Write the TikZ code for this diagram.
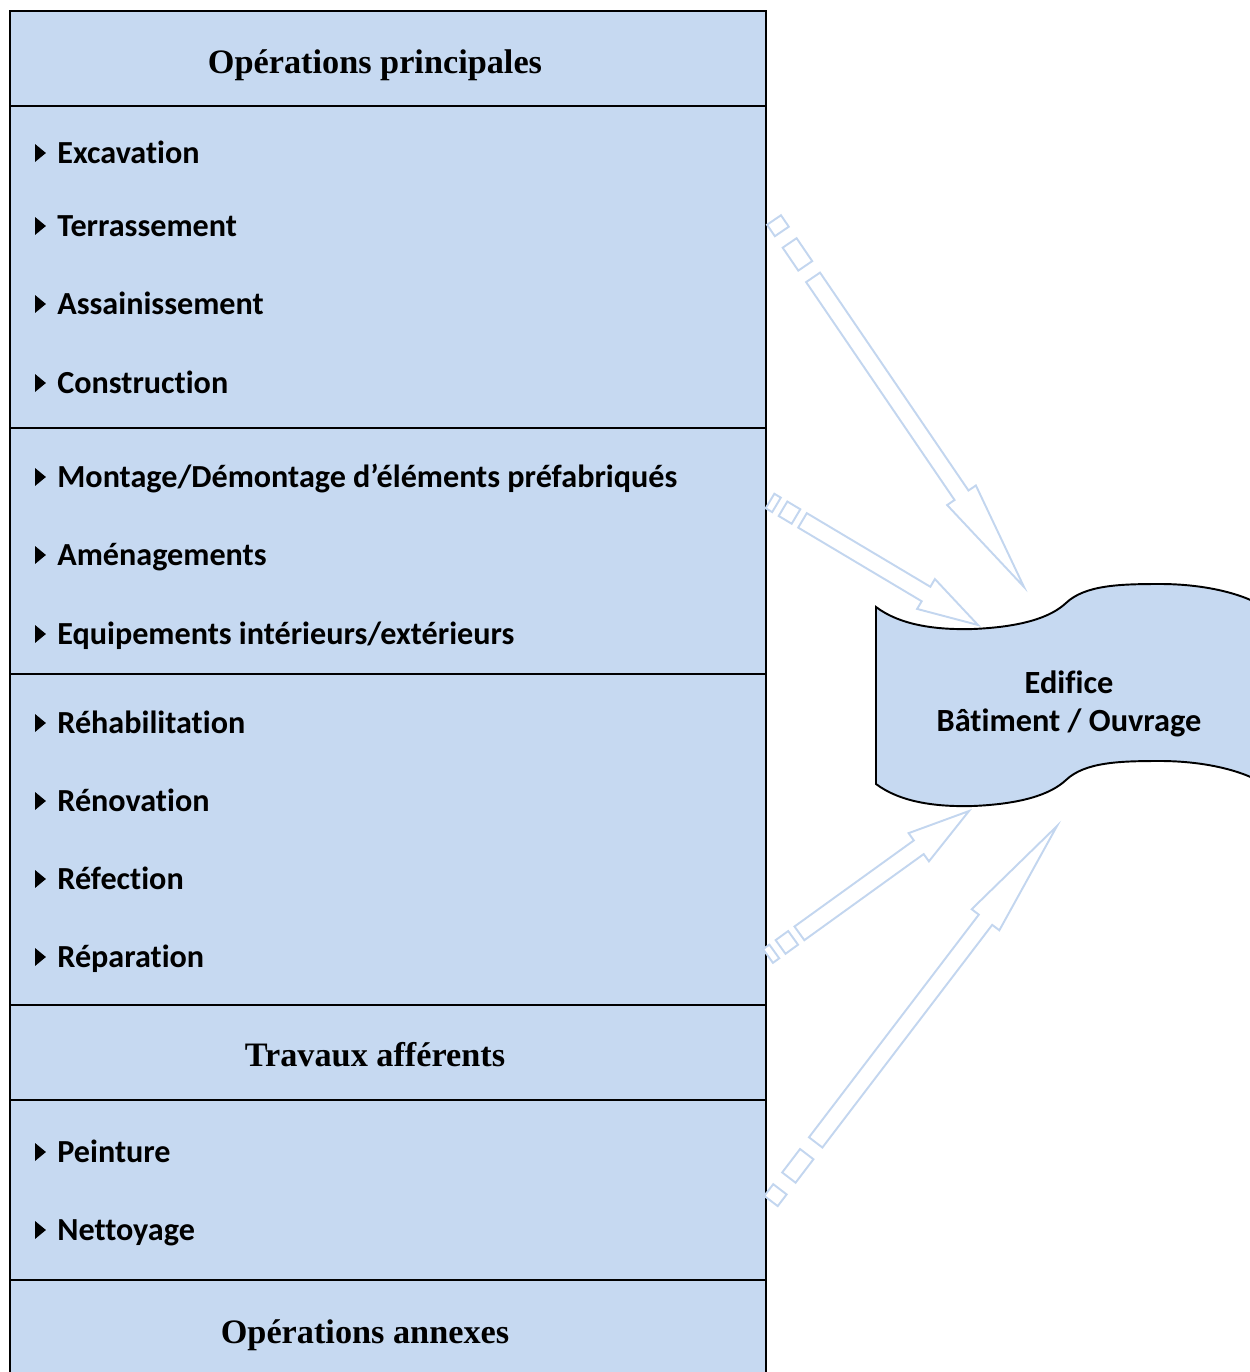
\documentclass[tikz,border=0pt]{standalone}
\usepackage{fontspec}
\setmainfont{Liberation Serif}
\newfontfamily\calibri[Ligatures=NoCommon]{Carlito}
\usepackage{xcolor}
\definecolor{boxblue}{HTML}{C6D9F1}
\definecolor{arrowblue}{HTML}{C3D6EF}
\usepackage{tikz}
\usetikzlibrary{calc}
\tikzset{
  section/.style={draw=black, line width=1.1pt, fill=boxblue},
  titre/.style  ={anchor=base, inner sep=0pt, font=\bfseries\fontsize{19.5}{24}\selectfont},
  item/.style   ={anchor=base west, inner sep=0pt, font=\calibri\bfseries\fontsize{18.3}{22}\selectfont},
  edif/.style   ={align=center, inner sep=0pt, font=\calibri\bfseries\fontsize{18.4}{21.5}\selectfont},
  flag/.style   ={draw=black, line width=1.1pt, fill=boxblue},
  sarrow/.style ={draw=arrowblue, line width=1.1pt, fill=white, line join=miter},
}
% puce triangulaire devant un item
\newcommand{\puce}[1]{\fill ([xshift=-12.5pt,yshift=0.6pt]#1.base west) -- ++(0,10.2pt) -- ++(6.2pt,-5.1pt) -- cycle;}
% flèche rayée : #1 nom, #2 départ, #3 pointe
\newcommand{\fleche}[3]{%
  \foreach \t/\s in {a/0, b/0.03125, c/0.0625, d/0.125, e/0.15625, f/0.75}{
    \coordinate (#1\t-l) at ($(#2)!\s!(#3)!4.8pt!90:(#3)$);
    \coordinate (#1\t-r) at ($(#2)!\s!(#3)!4.8pt!-90:(#3)$);
  }
  \coordinate (#1h-l) at ($(#2)!0.75!(#3)!9.9pt!90:(#3)$);
  \coordinate (#1h-r) at ($(#2)!0.75!(#3)!9.9pt!-90:(#3)$);
  \draw[sarrow] (#1a-l) -- (#1b-l) -- (#1b-r) -- (#1a-r) -- cycle;
  \draw[sarrow] (#1c-l) -- (#1d-l) -- (#1d-r) -- (#1c-r) -- cycle;
  \draw[sarrow] (#1e-l) -- (#1f-l) -- (#1h-l) -- (#3) -- (#1h-r) -- (#1f-r) -- (#1e-r) -- cycle;
}

\begin{document}
\begin{tikzpicture}[x=0.02cm, y=-0.02cm]
  \useasboundingbox (0,0) rectangle (1250,1372);
  % colonne des opérations
  \draw[section] (10,11)   rectangle (766,106);
  \draw[section] (10,106)  rectangle (766,428);
  \draw[section] (10,428)  rectangle (766,674);
  \draw[section] (10,674)  rectangle (766,1005);
  \draw[section] (10,1005) rectangle (766,1100);
  \draw[section] (10,1100) rectangle (766,1280);
  \draw[section] (10,1280) rectangle (766,1400);
  % titres
  \node[titre] (tp) at (375,73)   {Opérations principales};
  \node[titre] (ta) at (375,1066) {Travaux afférents};
  \node[titre] (to) at (365,1343) {Opérations annexes};
  % items
  \node[item] (exc) at (57,163)  {Excavation};
  \node[item] (ter) at (57,236)  {Terrassement};
  \node[item] (ass) at (57,314)  {Assainissement};
  \node[item] (con) at (57,393)  {Construction};
  \node[item] (mon) at (57,487)  {Montage/Démontage d’éléments préfabriqués};
  \node[item] (ame) at (57,565)  {Aménagements};
  \node[item] (equ) at (57,644)  {Equipements intérieurs/extérieurs};
  \node[item] (reh) at (57,733)  {Réhabilitation};
  \node[item] (ren) at (57,811)  {Rénovation};
  \node[item] (ref) at (57,889)  {Réfection};
  \node[item] (rep) at (57,967)  {Réparation};
  \node[item] (pei) at (57,1162) {Peinture};
  \node[item] (net) at (57,1240) {Nettoyage};
  \foreach \i in {exc,ter,ass,con,mon,ame,equ,reh,ren,ref,rep,pei,net} {\puce{\i}}
  % ouvrage (vague)
  \draw[flag] (876,607) .. controls (900,625) and (935,630) .. (973,629)
              .. controls (1020,627) and (1050,618) .. (1066,603)
              .. controls (1085,585) and (1120,584) .. (1160,584)
              .. controls (1200,584) and (1240,592) .. (1264,607)
              -- (1264,784)
              .. controls (1240,769) and (1200,761) .. (1160,761)
              .. controls (1120,761) and (1085,762) .. (1066,780)
              .. controls (1050,795) and (1020,804) .. (973,806)
              .. controls (935,807) and (900,802) .. (876,784) -- cycle;
  \node[edif] (edifice) at (1069,704) {Edifice\\Bâtiment / Ouvrage};
  % flèches vers l'ouvrage
  \coordinate (q1) at (774,220);  \coordinate (p1) at (1024,587);
  \coordinate (q2) at (770,501);  \coordinate (p2) at (978,625);
  \coordinate (q3) at (768,956);  \coordinate (p3) at (969,811);
  \coordinate (q4) at (771,1201); \coordinate (p4) at (1057,826);
  \fleche{f1}{q1}{p1}
  \fleche{f2}{q2}{p2}
  \fleche{f3}{q3}{p3}
  \fleche{f4}{q4}{p4}
\end{tikzpicture}
\end{document}
